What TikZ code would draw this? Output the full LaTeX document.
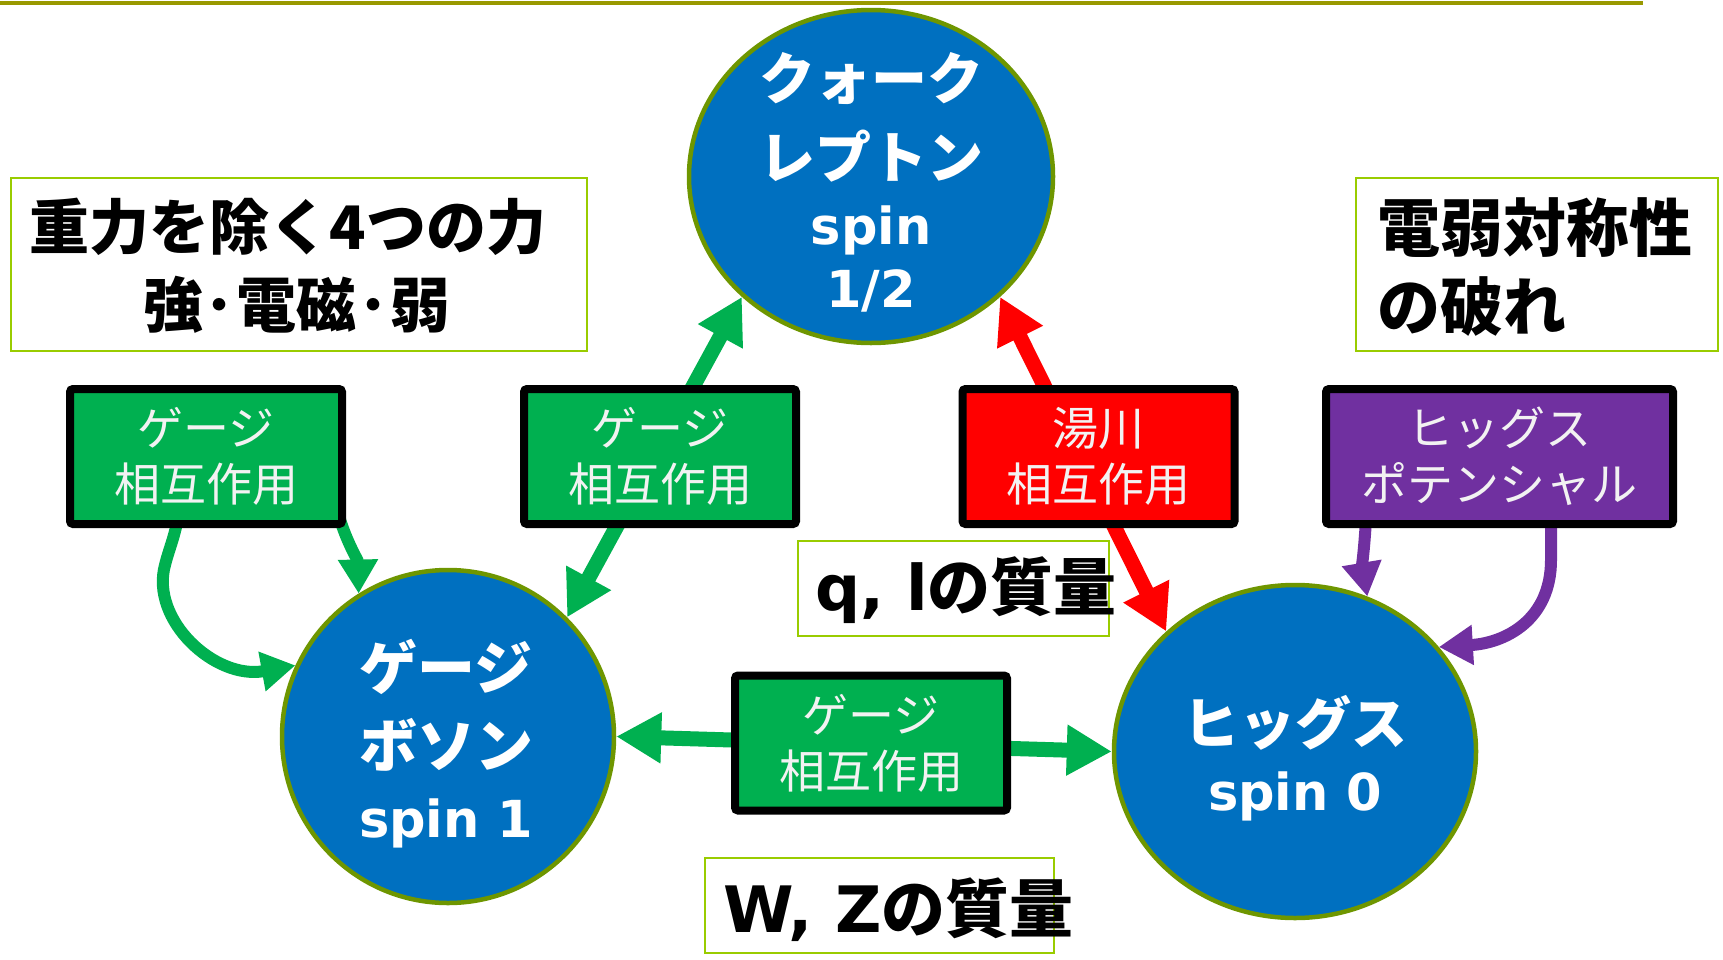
\documentclass[tikz,border=0pt]{standalone}
\usepackage{fontspec}
\setmainfont{Noto Sans CJK JP}
\newfontfamily\lat{DejaVu Sans}
\newcommand\latn[1]{{\lat\fontsize{51}{66}\selectfont #1}}
\usetikzlibrary{shapes.geometric,arrows.meta}
\definecolor{ellblue}{RGB}{0,112,192}
\definecolor{ellborder}{RGB}{110,150,0}
\definecolor{ggreen}{RGB}{0,176,80}
\definecolor{rred}{RGB}{255,0,0}
\definecolor{ppurple}{RGB}{112,48,160}
\definecolor{tboxborder}{RGB}{153,204,0}
\definecolor{toplinecol}{RGB}{153,153,0}
\definecolor{boxtext}{RGB}{242,242,242}
\begin{document}
\begin{tikzpicture}[x=1pt,y=-1pt,
 particle/.style={ellipse, draw=ellborder, line width=4.5pt, fill=ellblue, inner sep=0pt},
 ptext/.style={text=white, align=center, font=\fontsize{56}{66}\selectfont\bfseries, inner sep=0pt},
 ibox/.style={draw=black, line width=8pt, rounded corners=3pt, minimum width=272pt, minimum height=135pt, inner sep=0pt, text=boxtext, align=center, font=\fontsize{46}{56}\selectfont},
 tbox/.style={draw=tboxborder, line width=2pt, fill=white, inner sep=0pt},
 ttext/.style={text=black, inner sep=0pt, font=\fontsize{60}{78}\selectfont\bfseries},
 bigarrow/.style={line width=15pt, {Triangle[width=48pt,length=45pt]}-{Triangle[width=48pt,length=45pt]}},
 selfloop/.style={line width=12pt, {Triangle[width=38pt,length=34pt]}-{Triangle[width=38pt,length=34pt]}},
]
\useasboundingbox (0,0) rectangle (1723,959);
\draw[toplinecol, line width=4pt] (0,3) -- (1643,3);

% particles
\node[particle, minimum width=364pt, minimum height=333pt] (quark) at (871,176.5) {};
\node[particle, minimum width=332pt, minimum height=333pt] (gb) at (448,736.5) {};
\node[particle, minimum width=362pt, minimum height=333pt] (higgs) at (1295,751.5) {};
\node[ptext] (quarkt) at (871,182.5) {クォーク\\[13pt]レプトン\\[0pt]\latn{spin}\\[-3pt]\latn{1/2}};
\node[ptext, font=\fontsize{58}{66}\selectfont\bfseries] (gbt) at (446,744) {ゲージ\\[12pt]ボソン\\[4pt]\latn{spin 1}};
\node[ptext] (higgst) at (1295,758) {ヒッグス\\\latn{spin 0}};

% connectors
\draw[bigarrow, ggreen] (gb.45) -- (quark.223);
\draw[bigarrow, rred] (higgs.137) -- (quark.317);
\draw[bigarrow, ggreen] (gb.0) -- (higgs.180);
\draw[selfloop, ggreen] (gb.155) .. controls (215,680) and (150,620) .. (165,565) .. controls (170,545) and (178,530) .. (180,500) -- (335,500) .. controls (342,535) and (358,560) .. (gb.122);
\draw[selfloop, ppurple] (higgs.65) .. controls (1362,565) and (1365,545) .. (1367,500) -- (1551,500) -- (1551,560) .. controls (1551,620) and (1505,643) .. (higgs.36);

% interaction boxes
\node[ibox, fill=ggreen] (g1) at (206,456.5) {ゲージ\\相互作用};
\node[ibox, fill=ggreen] (g2) at (660,456.5) {ゲージ\\相互作用};
\node[ibox, fill=rred] (yk) at (1098.5,456.5) {湯川\\相互作用};
\node[ibox, fill=ppurple, minimum width=347pt] (hp) at (1499.5,456.5) {ヒッグス\\ポテンシャル};
\node[ibox, fill=ggreen] (g3) at (871,743) {ゲージ\\相互作用};

% text boxes
\node[tbox, minimum width=576pt, minimum height=173pt] (f4) at (299,264.5) {};
\node[ttext, align=center] (f4t) at (297,266) {重力を除く4つの力\rule{18pt}{0pt}\\強\kern2pt･\kern2pt電磁\kern2pt･\kern2pt弱};
\node[tbox, minimum width=362pt, minimum height=173pt] (ew) at (1537,264.5) {};
\node[ttext, align=left, anchor=west, font=\fontsize{63}{79}\selectfont\bfseries] (ewt) at (1377,267) {電弱対称性\\の破れ};
\node[tbox, minimum width=311pt, minimum height=95pt] (ql) at (953.5,588.5) {};
\node[ttext, anchor=west, font=\fontsize{63}{78}\selectfont\bfseries] (qlt) at (815,590) {{\lat q, l}の質量};
\node[tbox, minimum width=349pt, minimum height=95pt] (wz) at (879.5,905.5) {};
\node[ttext, anchor=west, font=\fontsize{64}{78}\selectfont\bfseries] (wzt) at (723,910) {{\lat W, Z}の質量};
\end{tikzpicture}
\end{document}
